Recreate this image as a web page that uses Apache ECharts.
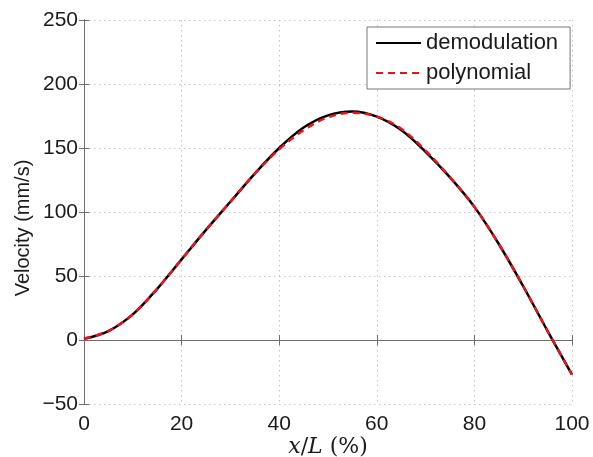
<!DOCTYPE html>
<html><head><meta charset="utf-8">
<script src="https://cdn.jsdelivr.net/npm/echarts@6/dist/echarts.min.js"></script>
<style>html,body{margin:0;padding:0;background:#fff}#c{width:593px;height:457px}</style>
</head><body><div id="c"></div>
<script>
var xPos = [0, 5, 10, 15, 20, 25, 30, 35, 40, 45, 50, 55, 60, 65, 70, 75, 80, 85, 90, 95, 100];
var demodulation = [1, 7, 20, 40, 63, 86, 108, 130, 150, 166, 175.5, 178.5, 174.5, 164, 147, 127, 104, 75, 42, 7, -27];
var polynomial =   [1, 7, 20, 40, 63, 86, 108, 130, 149, 164, 174, 177.5, 174.5, 165, 148, 127, 104, 75, 42, 7, -27];
var xTicks = [0, 20, 40, 60, 80, 100];
var yTicks = [-50, 0, 50, 100, 150, 200, 250];

function pairs(ys){ return xPos.map(function(x,i){ return [x, ys[i]]; }); }
var font = 'Liberation Sans, Arial, Helvetica, sans-serif';
var axisCol = '#6e6e6e';
var chart = echarts.init(document.getElementById('c'));
chart.setOption({
  animation: false,
  backgroundColor: '#fff',
  grid: {left: 84, right: 21, top: 20, bottom: 53, outerBoundsMode: 'none', containLabel: false},
  legend: {
    orient: 'vertical', left: 367, top: 27,
    padding: [5, 12, 5, 8], itemGap: 8, itemWidth: 45, itemHeight: 14,
    backgroundColor: '#fff', borderColor: '#777', borderWidth: 1,
    itemStyle: {opacity: 0},
    textStyle: {fontFamily: font, fontSize: 22, color: '#1a1a1a'},
    data: ['demodulation', 'polynomial']
  },
  xAxis: [{
    type: 'value', min: xTicks[0], max: xTicks[xTicks.length-1], interval: 20,
    axisLine: {lineStyle: {color: axisCol}},
    axisTick: {inside: true, length: 5, lineStyle: {color: axisCol}},
    axisLabel: {fontFamily: font, fontSize: 21, color: '#1a1a1a', margin: 10},
    splitLine: {show: true, lineStyle: {color: '#c4c4c4', type: [1.5, 3.5]}},
    name: '{i|x}{u|/}{i|L}{u| (%)}', nameLocation: 'middle', nameGap: 32, nameMoveOverlap: false,
    nameTextStyle: {rich: {
      i: {fontFamily: 'DejaVu Serif, Liberation Serif, serif', fontStyle: 'italic', fontSize: 22, color: '#1a1a1a'},
      u: {fontFamily: 'DejaVu Serif, Liberation Serif, serif', fontSize: 22, color: '#1a1a1a'}
    }}
  }, {
    type: 'value', position: 'top', min: xTicks[0], max: xTicks[xTicks.length-1], interval: 20,
    axisLine: {show: true, lineStyle: {color: axisCol}},
    axisTick: {inside: true, length: 5, lineStyle: {color: axisCol}},
    axisLabel: {show: false}, splitLine: {show: false}
  }],
  yAxis: [{
    type: 'value', min: yTicks[0], max: yTicks[yTicks.length-1], interval: 50,
    axisLine: {show: true, lineStyle: {color: axisCol}},
    axisTick: {show: true, inside: true, length: 5, lineStyle: {color: axisCol}},
    axisLabel: {fontFamily: font, fontSize: 21, color: '#1a1a1a', margin: 6,
      formatter: function(v){ return v < 0 ? '\u2212' + Math.abs(v) : String(v); }},
    splitLine: {show: true, lineStyle: {color: '#c4c4c4', type: [1.5, 3.5]}},
    name: 'Velocity (mm/s)', nameLocation: 'middle', nameGap: 51, nameMoveOverlap: false,
    nameTextStyle: {fontFamily: font, fontSize: 20, color: '#1a1a1a', padding: [0, 32, 0, 0]}
  }, {
    type: 'value', position: 'right', min: yTicks[0], max: yTicks[yTicks.length-1], interval: 50,
    axisLine: {show: true, lineStyle: {color: axisCol}},
    axisTick: {show: true, inside: true, length: 5, lineStyle: {color: axisCol}},
    axisLabel: {show: false}, splitLine: {show: false}
  }],
  series: [{
    name: 'demodulation', type: 'line', data: pairs(demodulation),
    smooth: 0.35, symbol: 'none', z: 3,
    lineStyle: {color: '#000', width: 2.5}, itemStyle: {color: '#000'}
  }, {
    name: 'polynomial', type: 'line', data: pairs(polynomial),
    smooth: 0.35, symbol: 'none', z: 4,
    lineStyle: {color: '#e8141c', width: 2.5, type: [7, 5]}, itemStyle: {color: '#e8141c'}
  }]
});
</script></body></html>
